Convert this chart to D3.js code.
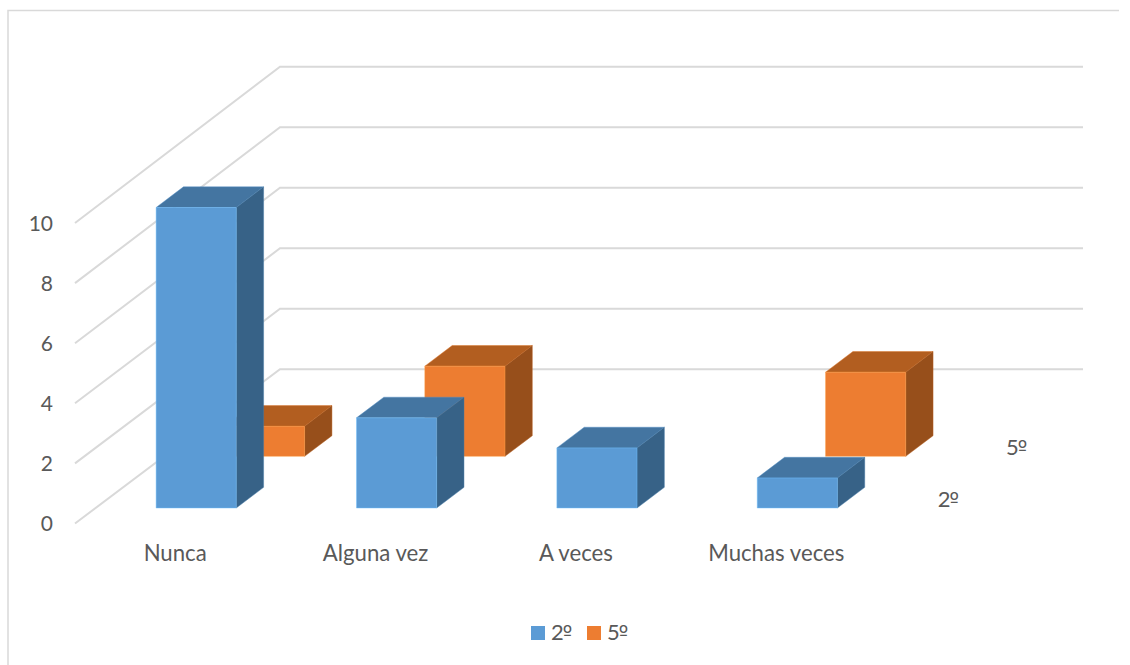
<!DOCTYPE html>
<html><head><meta charset="utf-8">
<script src="https://cdn.jsdelivr.net/npm/d3@7"></script>
<style>html,body{margin:0;padding:0;background:#fff}svg{display:block}text{font-family:Lato,sans-serif;fill:#595959}.o{font-family:"DejaVu Sans",sans-serif}</style>
</head><body><div id="c"></div>
<script>
const categories = ["Nunca","Alguna vez","A veces","Muchas veces"];
const seriesNames = ["2º","5º"];
const values2 = [10,3,2,1];
const values5 = [1,3,0,2.8];
const yTicks = [0,2,4,6,8,10];
const colors = {"2º":{front:"#5b9bd5",top:"#4475a1",side:"#376287"},"5º":{front:"#ed7d31",top:"#b25e20",side:"#974f1b"}};

const W=1130,H=665;
const svg=d3.select("#c").append("svg").attr("width",W).attr("height",H);
const x=d3.scaleBand().domain(categories).range([75.5,877]).paddingInner(0.6).paddingOuter(0.3);
const y=d3.scaleLinear().domain([0,10]).range([523.5,223]);
const yWall=d3.scaleLinear().domain([0,10]).range([369.3,66.7]);
const depth=d3.scaleBand().domain([...seriesNames,""]).range([0,1]).paddingInner(0.6).paddingOuter(0.3);
const DX=205,DY=-155;
const px=(sx,d)=>sx+d*DX, py=(sy,d)=>sy+d*DY;

// frame
svg.append("path").attr("d",`M8,${H}V10.5H1119`).attr("fill","none").attr("stroke","#d9d9d9").attr("stroke-width",1.5);

// gridlines
const grid=svg.append("g").attr("fill","none").attr("stroke","#d9d9d9").attr("stroke-width",2);
grid.selectAll("path").data(yTicks).join("path")
 .attr("d",v=>d3.line()([[75,y(v)],[280,yWall(v)],[1083,yWall(v)]]));

// y tick labels
svg.append("g").selectAll("text").data(yTicks).join("text")
 .attr("x",53).attr("y",v=>y(v)+7.5).attr("text-anchor","end").attr("font-size",21).text(d=>d);

// bars, back row first
const data=[[ "5º",values5],["2º",values2]];
const bars=svg.append("g");
data.forEach(([s,vals])=>{
  const d0=depth(s),d1=d0+depth.bandwidth();
  vals.forEach((v,i)=>{
    if(v<=0) return;
    const xl=x(categories[i]),xr=xl+x.bandwidth(),yb=y(0),yt=y(v);
    const poly=(pts,fill)=>bars.append("polygon").attr("points",pts.map(p=>p.join(",")).join(" ")).attr("fill",fill).attr("stroke",d3.color(fill).brighter(0.6)).attr("stroke-opacity",0.45).attr("stroke-width",1).attr("stroke-linejoin","round");
    poly([[px(xl,d0),py(yt,d0)],[px(xr,d0),py(yt,d0)],[px(xr,d1),py(yt,d1)],[px(xl,d1),py(yt,d1)]],colors[s].top);
    poly([[px(xr,d0),py(yt,d0)],[px(xr,d1),py(yt,d1)],[px(xr,d1),py(yb,d1)],[px(xr,d0),py(yb,d0)]],colors[s].side);
    poly([[px(xl,d0),py(yt,d0)],[px(xr,d0),py(yt,d0)],[px(xr,d0),py(yb,d0)],[px(xl,d0),py(yb,d0)]],colors[s].front);
  });
});

// category labels
svg.append("g").selectAll("text").data(categories).join("text")
 .attr("x",c=>x(c)+x.bandwidth()/2-0.5).attr("y",561).attr("text-anchor","middle").attr("font-size",22.2).text(d=>d);

// series labels: digit plus an underlined ordinal sign
const ordinal=sel=>{
  sel.append("tspan").attr("font-size",22).text(d=>d[0]);
  sel.append("tspan").attr("class","o").attr("font-size",20).attr("dx",-1).text(d=>d.slice(1));
};
svg.append("g").selectAll("text").data(seriesNames).join("text")
 .attr("x",s=>px(877,depth(s)+depth.bandwidth()/2)+26.5).attr("y",s=>py(y(0),depth(s)+depth.bandwidth()/2)+9)
 .call(ordinal);

// legend
const lg=svg.append("g").selectAll("g").data(seriesNames).join("g").attr("transform",(s,i)=>`translate(${531+i*56},626)`);
lg.append("rect").attr("width",14).attr("height",14).attr("fill",s=>colors[s].front);
lg.append("text").attr("x",20).attr("y",14).call(ordinal);
</script></body></html>
